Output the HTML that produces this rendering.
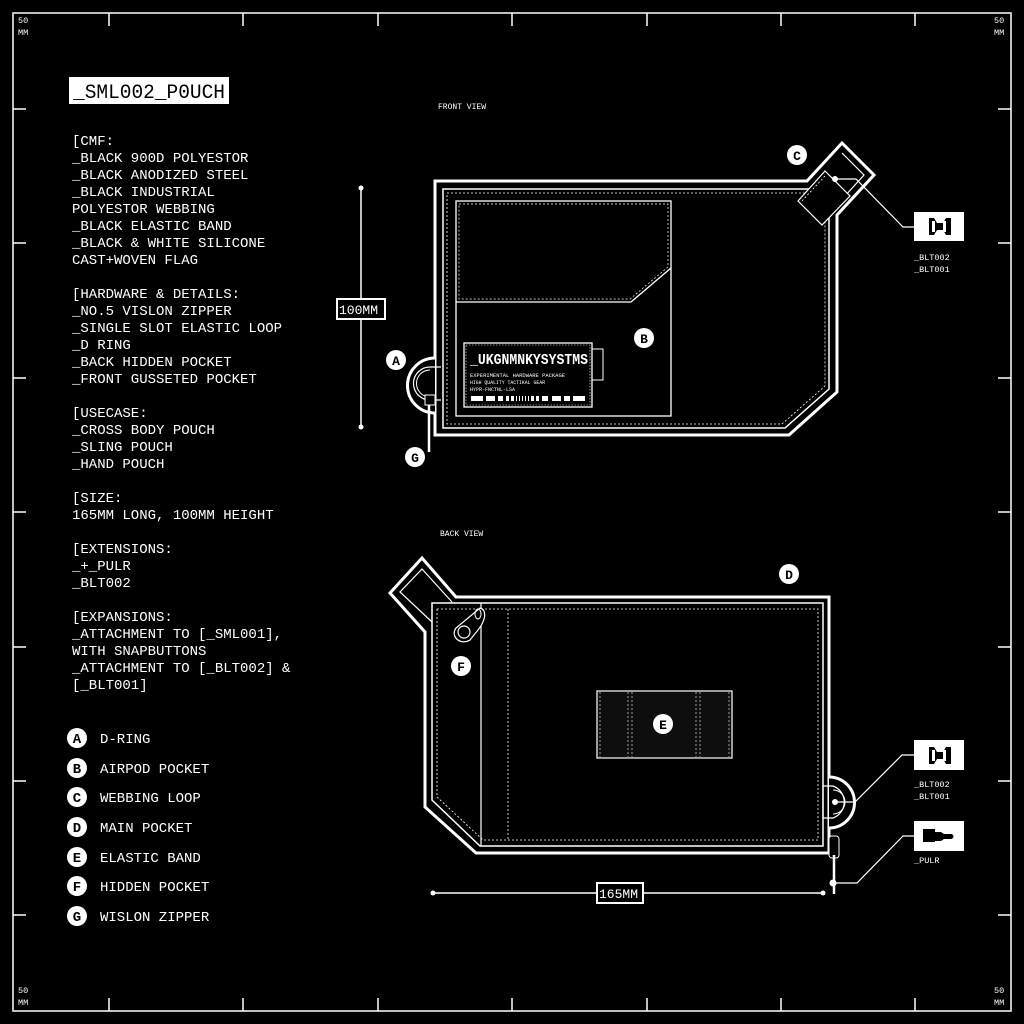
<!DOCTYPE html>
<html><head><meta charset="utf-8"><style>
html,body{margin:0;padding:0;background:#000;width:1024px;height:1024px;overflow:hidden}
svg{display:block}
text{font-family:"Liberation Mono",monospace;fill:#fff}
</style></head><body>
<svg width="1024" height="1024" viewBox="0 0 1024 1024" xmlns="http://www.w3.org/2000/svg">
<rect width="1024" height="1024" fill="#000"/>
<rect x="13" y="13" width="998" height="998" fill="none" stroke="#fff" stroke-width="1.5"/>
<g stroke="#fff" stroke-width="1.5">
<line x1="109" y1="13" x2="109" y2="26"/><line x1="243" y1="13" x2="243" y2="26"/><line x1="378" y1="13" x2="378" y2="26"/><line x1="512" y1="13" x2="512" y2="26"/><line x1="647" y1="13" x2="647" y2="26"/><line x1="781" y1="13" x2="781" y2="26"/><line x1="915" y1="13" x2="915" y2="26"/>
<line x1="109" y1="1011" x2="109" y2="998"/><line x1="243" y1="1011" x2="243" y2="998"/><line x1="378" y1="1011" x2="378" y2="998"/><line x1="512" y1="1011" x2="512" y2="998"/><line x1="647" y1="1011" x2="647" y2="998"/><line x1="781" y1="1011" x2="781" y2="998"/><line x1="915" y1="1011" x2="915" y2="998"/>
<line y1="109" x1="13" y2="109" x2="26"/><line y1="243" x1="13" y2="243" x2="26"/><line y1="378" x1="13" y2="378" x2="26"/><line y1="512" x1="13" y2="512" x2="26"/><line y1="647" x1="13" y2="647" x2="26"/><line y1="781" x1="13" y2="781" x2="26"/><line y1="915" x1="13" y2="915" x2="26"/>
<line y1="109" x1="1011" y2="109" x2="998"/><line y1="243" x1="1011" y2="243" x2="998"/><line y1="378" x1="1011" y2="378" x2="998"/><line y1="512" x1="1011" y2="512" x2="998"/><line y1="647" x1="1011" y2="647" x2="998"/><line y1="781" x1="1011" y2="781" x2="998"/><line y1="915" x1="1011" y2="915" x2="998"/>
</g>
<g font-size="8.5">
<text x="18" y="23">50</text><text x="18" y="35">MM</text>
<text x="994" y="23">50</text><text x="994" y="35">MM</text>
<text x="18" y="993">50</text><text x="18" y="1005">MM</text>
<text x="994" y="993">50</text><text x="994" y="1005">MM</text>
</g>
<rect x="69" y="77" width="160" height="27" fill="#fff"/>
<text x="73" y="98" font-size="20" style="fill:#000" textLength="152" lengthAdjust="spacingAndGlyphs">_SML002_P0UCH</text>
<g font-size="14">
<text x="72" y="145">[CMF:</text>
<text x="72" y="162">_BLACK 900D POLYESTOR</text>
<text x="72" y="179">_BLACK ANODIZED STEEL</text>
<text x="72" y="196">_BLACK INDUSTRIAL</text>
<text x="72" y="213">POLYESTOR WEBBING</text>
<text x="72" y="230">_BLACK ELASTIC BAND</text>
<text x="72" y="247">_BLACK &amp; WHITE SILICONE</text>
<text x="72" y="264">CAST+WOVEN FLAG</text>
<text x="72" y="298">[HARDWARE &amp; DETAILS:</text>
<text x="72" y="315">_NO.5 VISLON ZIPPER</text>
<text x="72" y="332">_SINGLE SLOT ELASTIC LOOP</text>
<text x="72" y="349">_D RING</text>
<text x="72" y="366">_BACK HIDDEN POCKET</text>
<text x="72" y="383">_FRONT GUSSETED POCKET</text>
<text x="72" y="417">[USECASE:</text>
<text x="72" y="434">_CROSS BODY POUCH</text>
<text x="72" y="451">_SLING POUCH</text>
<text x="72" y="468">_HAND POUCH</text>
<text x="72" y="502">[SIZE:</text>
<text x="72" y="519">165MM LONG, 100MM HEIGHT</text>
<text x="72" y="553">[EXTENSIONS:</text>
<text x="72" y="570">_+_PULR</text>
<text x="72" y="587">_BLT002</text>
<text x="72" y="621">[EXPANSIONS:</text>
<text x="72" y="638">_ATTACHMENT TO [_SML001],</text>
<text x="72" y="655">WITH SNAPBUTTONS</text>
<text x="72" y="672">_ATTACHMENT TO [_BLT002] &amp;</text>
<text x="72" y="689">[_BLT001]</text>
</g>
<g font-size="14">
<g><circle cx="77" cy="738" r="10" fill="#fff"/><text x="77" y="743" text-anchor="middle" font-weight="bold" style="fill:#000">A</text><text x="100" y="743">D-RING</text></g>
<g><circle cx="77" cy="768" r="10" fill="#fff"/><text x="77" y="773" text-anchor="middle" font-weight="bold" style="fill:#000">B</text><text x="100" y="773">AIRPOD POCKET</text></g>
<g><circle cx="77" cy="797" r="10" fill="#fff"/><text x="77" y="802" text-anchor="middle" font-weight="bold" style="fill:#000">C</text><text x="100" y="802">WEBBING LOOP</text></g>
<g><circle cx="77" cy="827" r="10" fill="#fff"/><text x="77" y="832" text-anchor="middle" font-weight="bold" style="fill:#000">D</text><text x="100" y="832">MAIN POCKET</text></g>
<g><circle cx="77" cy="857" r="10" fill="#fff"/><text x="77" y="862" text-anchor="middle" font-weight="bold" style="fill:#000">E</text><text x="100" y="862">ELASTIC BAND</text></g>
<g><circle cx="77" cy="886" r="10" fill="#fff"/><text x="77" y="891" text-anchor="middle" font-weight="bold" style="fill:#000">F</text><text x="100" y="891">HIDDEN POCKET</text></g>
<g><circle cx="77" cy="916" r="10" fill="#fff"/><text x="77" y="921" text-anchor="middle" font-weight="bold" style="fill:#000">G</text><text x="100" y="921">WISLON ZIPPER</text></g>
</g>

<!-- FRONT VIEW -->
<text x="438" y="109" font-size="8">FRONT VIEW</text>
<line x1="361" y1="188" x2="361" y2="427" stroke="#fff" stroke-width="1.5"/>
<circle cx="361" cy="188" r="2.5" fill="#fff"/><circle cx="361" cy="427" r="2.5" fill="#fff"/>
<rect x="336" y="298" width="50" height="22" fill="#fff"/>
<rect x="338" y="300" width="46" height="18" fill="#000"/>
<text x="339" y="314" font-size="13">100MM</text>
<path d="M435 181 H807 L842 143 L874 175 L837 215 V392 L789 435 H435 Z" fill="none" stroke="#fff" stroke-width="3"/>
<path d="M812 189 H443 V428 H785 L829 389 V212" fill="none" stroke="#fff" stroke-width="1.5"/>
<path d="M805 193 H447 V424 H782 L825 386 V218" fill="none" stroke="#fff" stroke-width="0.8" stroke-dasharray="2 2"/>
<path d="M842 153 L864 175 L835 207" fill="none" stroke="#fff" stroke-width="1.2"/>
<path d="M798 201 L825 171 L850 196 L822 225 Z" fill="#000" stroke="#fff" stroke-width="1.2"/>
<path d="M802 201 L825 176" fill="none" stroke="#fff" stroke-width="0.8" stroke-dasharray="2 2"/>
<rect x="456" y="201" width="215" height="215" fill="none" stroke="#fff" stroke-width="1.3"/>
<path d="M456 302 H631 L671 268" fill="none" stroke="#fff" stroke-width="1.3"/>
<path d="M459 204 H668 V267 L630 299 H459 Z" fill="none" stroke="#fff" stroke-width="0.7" stroke-dasharray="2 2"/>
<rect x="464" y="343" width="128" height="64" fill="#000" stroke="#fff" stroke-width="1.3"/>
<rect x="466" y="345" width="124" height="60" fill="none" stroke="#fff" stroke-width="0.6" stroke-dasharray="1.5 1.5"/>
<rect x="592" y="349" width="11" height="31" fill="none" stroke="#fff" stroke-width="1"/>
<text x="470" y="364" font-size="15" font-weight="bold" textLength="118" lengthAdjust="spacingAndGlyphs">_UKGNMNKYSYSTMS</text>
<text x="470" y="377" font-size="5.5" textLength="95" lengthAdjust="spacingAndGlyphs">EXPERIMENTAL HARDWARE PACKAGE</text>
<text x="470" y="384" font-size="5.5" textLength="75" lengthAdjust="spacingAndGlyphs">HIGH QUALITY TACTIKAL GEAR</text>
<text x="470" y="391" font-size="5.5" textLength="45" lengthAdjust="spacingAndGlyphs">HYPR-FNCTNL-LSA</text>
<g fill="#fff"><rect x="471" y="396" width="12" height="5"/><rect x="486" y="396" width="9" height="5"/><rect x="498" y="396" width="5" height="5"/><rect x="506" y="396" width="3" height="5"/><rect x="511" y="396" width="3" height="5"/><rect x="516" y="396" width="1" height="5"/><rect x="519" y="396" width="1" height="5"/><rect x="522" y="396" width="1" height="5"/><rect x="525" y="396" width="1" height="5"/><rect x="528" y="396" width="1" height="5"/><rect x="531" y="396" width="3" height="5"/><rect x="536" y="396" width="3" height="5"/><rect x="542" y="396" width="6" height="5"/><rect x="552" y="396" width="9" height="5"/><rect x="573" y="396" width="12" height="5"/><rect x="564" y="396" width="6" height="5"/></g>
<path d="M435 358 A22 22 0 1 0 435 413" fill="#000" stroke="#fff" stroke-width="3"/>
<path d="M441 367 H430 A16 16 0 0 0 430 400 H441" fill="none" stroke="#fff" stroke-width="1.2"/>
<path d="M430 370 A13 13 0 0 0 430 397" fill="none" stroke="#fff" stroke-width="1"/>
<rect x="425" y="395" width="10" height="10" fill="#000" stroke="#fff" stroke-width="1"/>
<line x1="429" y1="405" x2="429" y2="452" stroke="#fff" stroke-width="2.5"/>
<g font-size="13" font-weight="bold">
<circle cx="797" cy="155" r="10" fill="#fff"/><text x="797" y="160" text-anchor="middle" style="fill:#000">C</text>
<circle cx="644" cy="338" r="10" fill="#fff"/><text x="644" y="343" text-anchor="middle" style="fill:#000">B</text>
<circle cx="396" cy="360" r="10" fill="#fff"/><text x="396" y="365" text-anchor="middle" style="fill:#000">A</text>
<circle cx="415" cy="457" r="10" fill="#fff"/><text x="415" y="462" text-anchor="middle" style="fill:#000">G</text>
</g>
<circle cx="835" cy="179" r="3" fill="#fff"/>
<path d="M835 179 H856 L903 227 H914" fill="none" stroke="#fff" stroke-width="1.2"/>
<rect x="914" y="212" width="50" height="29" fill="#fff"/>
<path d="M929 218 h5 l3 5 h6 l3 -5 h5 v17 h-5 l-3 -5 h-6 l-3 5 h-5 z" fill="#000"/>
<rect x="932" y="221" width="3" height="11" fill="#fff"/><rect x="943" y="221" width="3" height="11" fill="#fff"/>
<text x="914" y="260" font-size="8.5">_BLT002</text><text x="914" y="272" font-size="8.5">_BLT001</text>

<!-- BACK VIEW -->
<text x="440" y="536" font-size="8">BACK VIEW</text>
<path d="M456 597 H829 V853 H476 L425 807 V632 L390 593 L422 558 Z" fill="none" stroke="#fff" stroke-width="3"/>
<path d="M432 622 L400 592 L422 569 L452 602" fill="none" stroke="#fff" stroke-width="1.2"/>
<path d="M432 603 H823 V846 H480 L432 800 Z" fill="none" stroke="#fff" stroke-width="1.5"/>
<path d="M437 609 H818 V840 H483 L437 797 Z" fill="none" stroke="#fff" stroke-width="0.8" stroke-dasharray="2 2"/>
<line x1="481" y1="603" x2="481" y2="846" stroke="#fff" stroke-width="1.2"/>
<line x1="508" y1="609" x2="508" y2="840" stroke="#fff" stroke-width="0.8" stroke-dasharray="2 2"/>
<path d="M480 608 C487 610 486 620 478 630 L470 640 C460 646 450 636 456 628 Z" fill="#000" stroke="#fff" stroke-width="1.2"/>
<circle cx="464" cy="632" r="6" fill="none" stroke="#fff" stroke-width="1.2"/>
<ellipse cx="478" cy="614" rx="3" ry="5" fill="none" stroke="#fff" stroke-width="1"/>
<rect x="597" y="691" width="135" height="67" fill="#0e0e0e" stroke="#fff" stroke-width="1.2"/>
<g stroke="#fff" stroke-width="0.6" stroke-dasharray="2 2"><line x1="628" y1="692" x2="628" y2="757"/><line x1="632" y1="692" x2="632" y2="757"/><line x1="696" y1="692" x2="696" y2="757"/><line x1="700" y1="692" x2="700" y2="757"/><line x1="600" y1="692" x2="600" y2="757"/><line x1="729" y1="692" x2="729" y2="757"/></g>
<path d="M829 777 A25 25 0 0 1 829 828" fill="#000" stroke="#fff" stroke-width="3"/>
<path d="M823 786 H833 A17 17 0 0 1 833 818 H823 Z" fill="none" stroke="#fff" stroke-width="1.2"/>
<path d="M833 790 A12 12 0 0 1 833 814" fill="none" stroke="#fff" stroke-width="1"/>
<rect x="829" y="836" width="10" height="22" rx="3" fill="#000" stroke="#fff" stroke-width="1"/>
<line x1="834" y1="855" x2="834" y2="894" stroke="#fff" stroke-width="2.5"/>
<g font-size="13" font-weight="bold">
<circle cx="789" cy="574" r="10" fill="#fff"/><text x="789" y="579" text-anchor="middle" style="fill:#000">D</text>
<circle cx="461" cy="666" r="10" fill="#fff"/><text x="461" y="671" text-anchor="middle" style="fill:#000">F</text>
<circle cx="663" cy="724" r="10" fill="#fff"/><text x="663" y="729" text-anchor="middle" style="fill:#000">E</text>
</g>
<circle cx="835" cy="802" r="3" fill="#fff"/>
<path d="M835 802 H855 L902 755 H914" fill="none" stroke="#fff" stroke-width="1.2"/>
<rect x="914" y="740" width="50" height="30" fill="#fff"/>
<path d="M929 747 h5 l3 5 h6 l3 -5 h5 v17 h-5 l-3 -5 h-6 l-3 5 h-5 z" fill="#000"/>
<rect x="932" y="750" width="3" height="11" fill="#fff"/><rect x="943" y="750" width="3" height="11" fill="#fff"/>
<text x="914" y="787" font-size="8.5">_BLT002</text><text x="914" y="799" font-size="8.5">_BLT001</text>
<circle cx="833" cy="883" r="3.5" fill="#fff"/>
<path d="M833 883 H857 L903 836 H914" fill="none" stroke="#fff" stroke-width="1.2"/>
<rect x="914" y="821" width="50" height="30" fill="#fff"/>
<rect x="923" y="829" width="12" height="13" fill="#000"/>
<path d="M935 832 h6 l3 2 h7 a2.5 2.5 0 0 1 0 5 h-7 l-3 2 h-6 z" fill="#000"/>
<text x="914" y="863" font-size="8.5">_PULR</text>
<line x1="433" y1="893" x2="823" y2="893" stroke="#fff" stroke-width="1.5"/>
<circle cx="433" cy="893" r="2.5" fill="#fff"/><circle cx="823" cy="893" r="2.5" fill="#fff"/>
<rect x="596" y="882" width="48" height="22" fill="#fff"/>
<rect x="598" y="884" width="44" height="18" fill="#000"/>
<text x="599" y="898" font-size="13">165MM</text>
</svg>
</body></html>
